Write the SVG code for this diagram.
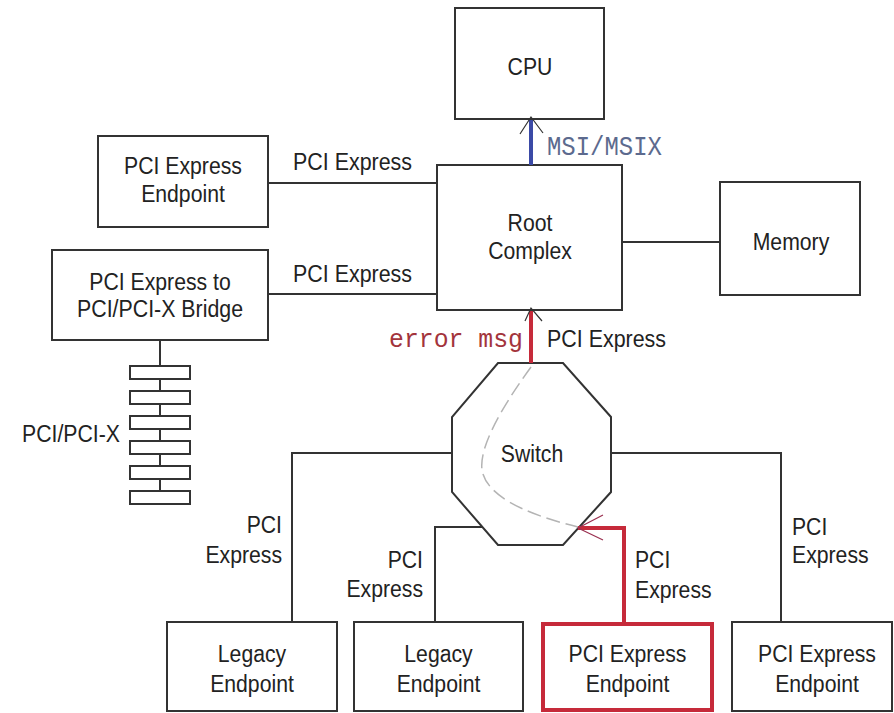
<svg xmlns="http://www.w3.org/2000/svg" width="894" height="713" viewBox="0 0 894 713">
<style>
.box{fill:#fff;stroke:#333;stroke-width:2}
.rbox{fill:#fff;stroke:#c62a3a;stroke-width:4}
.ln{fill:none;stroke:#333;stroke-width:2}
.t{font-family:"Liberation Sans",Arial,sans-serif;font-size:23px;fill:#222}
.c{text-anchor:middle}
.e{text-anchor:end}
.mono{font-family:"Liberation Mono","Courier New",monospace}
.head{fill:none;stroke:#333;stroke-width:1.2}
</style>
<rect width="894" height="713" fill="#fff"/>
<g id="cpu"><rect class="box" x="455" y="8" width="149" height="111"/><text class="t c" x="530" y="75" textLength="44.8" lengthAdjust="spacingAndGlyphs">CPU</text></g>
<g id="root"><rect class="box" x="437" y="165" width="185" height="145"/>
<text class="t c" x="530" y="231" textLength="44.8" lengthAdjust="spacingAndGlyphs">Root</text>
<text class="t c" x="530" y="259" textLength="83.6" lengthAdjust="spacingAndGlyphs">Complex</text></g>
<g id="memory"><rect class="box" x="720" y="182" width="140" height="113"/><text class="t c" x="791" y="250" textLength="76.6" lengthAdjust="spacingAndGlyphs">Memory</text></g>
<g id="ep-top"><rect class="box" x="98" y="136" width="170" height="91"/>
<text class="t c" x="183" y="174" textLength="117.8" lengthAdjust="spacingAndGlyphs">PCI Express</text>
<text class="t c" x="183" y="202" textLength="83.7" lengthAdjust="spacingAndGlyphs">Endpoint</text></g>
<g id="bridge"><rect class="box" x="52" y="250" width="216" height="90"/>
<text class="t c" x="160" y="290" textLength="141.4" lengthAdjust="spacingAndGlyphs">PCI Express to</text>
<text class="t c" x="160" y="317" textLength="166" lengthAdjust="spacingAndGlyphs">PCI/PCI-X Bridge</text></g>
<g id="bus">
<rect class="box" x="130" y="366" width="60" height="13"/>
<rect class="box" x="130" y="391" width="60" height="13"/>
<rect class="box" x="130" y="416" width="60" height="13"/>
<rect class="box" x="130" y="441" width="60" height="13"/>
<rect class="box" x="130" y="466" width="60" height="13"/>
<rect class="box" x="130" y="491" width="60" height="13"/>
<text class="t" x="22" y="442" textLength="98" lengthAdjust="spacingAndGlyphs">PCI/PCI-X</text></g>
<g id="switch"><polygon class="box" points="498,363 563,363 611,417 611,492 563,545 498,545 452,492 452,417"/>
<text class="t c" x="532" y="462" textLength="62.4" lengthAdjust="spacingAndGlyphs">Switch</text></g>
<g id="legacy1"><rect class="box" x="167" y="622" width="170" height="89"/>
<text class="t c" x="252" y="662" textLength="68.3" lengthAdjust="spacingAndGlyphs">Legacy</text>
<text class="t c" x="252" y="692" textLength="83.7" lengthAdjust="spacingAndGlyphs">Endpoint</text></g>
<g id="legacy2"><rect class="box" x="354" y="622" width="169" height="89"/>
<text class="t c" x="438.5" y="662" textLength="68.3" lengthAdjust="spacingAndGlyphs">Legacy</text>
<text class="t c" x="438.5" y="692" textLength="83.7" lengthAdjust="spacingAndGlyphs">Endpoint</text></g>
<g id="ep-red"><rect class="rbox" x="543" y="624" width="169" height="86"/>
<text class="t c" x="627.5" y="662" textLength="117.8" lengthAdjust="spacingAndGlyphs">PCI Express</text>
<text class="t c" x="627.5" y="692" textLength="83.7" lengthAdjust="spacingAndGlyphs">Endpoint</text></g>
<g id="ep-right"><rect class="box" x="732" y="622" width="160" height="89"/>
<text class="t c" x="817" y="662" textLength="117.8" lengthAdjust="spacingAndGlyphs">PCI Express</text>
<text class="t c" x="817" y="692" textLength="83.7" lengthAdjust="spacingAndGlyphs">Endpoint</text></g>
<g id="connectors">
<line class="ln" x1="268" y1="183" x2="437" y2="183"/>
<line class="ln" x1="268" y1="294" x2="437" y2="294"/>
<line class="ln" x1="622" y1="242" x2="720" y2="242"/>
<path class="ln" d="M160,340V366M160,379V391M160,404V416M160,429V441M160,454V466M160,479V491"/>
<polyline class="ln" points="452,453 292,453 292,622"/>
<polyline class="ln" points="611,453 781,453 781,622"/>
<polyline class="ln" points="482,527 435,527 435,622"/>
<path d="M531,367 Q478,440 482,470 Q488,505 578,527" fill="none" stroke="#b4b4b4" stroke-width="1.5" stroke-dasharray="14 6"/>
<line x1="531" y1="165" x2="531" y2="120" stroke="#3b4aa6" stroke-width="4"/>
<polyline class="head" points="520,134 531,117 543,133"/>
<line x1="531" y1="363" x2="531" y2="311" stroke="#c62a3a" stroke-width="4"/>
<polyline class="head" points="525,321 531,308 542,321"/>
<polyline points="578,528 624,528 624,624" fill="none" stroke="#c62a3a" stroke-width="4"/>
<polyline points="603,515 578,528 603,540" fill="none" stroke="#9a3050" stroke-width="1.2"/>
</g>
<g id="labels">
<text class="t" x="293" y="170" textLength="119" lengthAdjust="spacingAndGlyphs">PCI Express</text>
<text class="t" x="293" y="282" textLength="119" lengthAdjust="spacingAndGlyphs">PCI Express</text>
<text class="t" x="547" y="347" textLength="119" lengthAdjust="spacingAndGlyphs">PCI Express</text>
<text class="mono" x="547" y="155" font-size="27" fill="#5c6a8e" textLength="115" lengthAdjust="spacingAndGlyphs">MSI/MSIX</text>
<text class="mono" x="389" y="347" font-size="26" fill="#a3343c" textLength="134" lengthAdjust="spacingAndGlyphs">error msg</text>
<text class="t e" x="282" y="533" textLength="35.3" lengthAdjust="spacingAndGlyphs">PCI</text>
<text class="t e" x="282" y="563" textLength="76.6" lengthAdjust="spacingAndGlyphs">Express</text>
<text class="t e" x="423" y="568" textLength="35.3" lengthAdjust="spacingAndGlyphs">PCI</text>
<text class="t e" x="423" y="597" textLength="76.6" lengthAdjust="spacingAndGlyphs">Express</text>
<text class="t" x="635" y="568" textLength="35.3" lengthAdjust="spacingAndGlyphs">PCI</text>
<text class="t" x="635" y="598" textLength="76.6" lengthAdjust="spacingAndGlyphs">Express</text>
<text class="t" x="792" y="535" textLength="35.3" lengthAdjust="spacingAndGlyphs">PCI</text>
<text class="t" x="792" y="563" textLength="76.6" lengthAdjust="spacingAndGlyphs">Express</text>
</g>
</svg>
